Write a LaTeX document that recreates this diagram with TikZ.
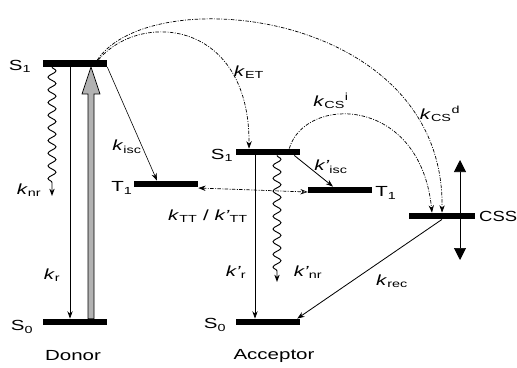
\documentclass[tikz,border=0pt]{standalone}
\usepackage{fontspec}
\setmainfont[FakeStretch=1.4]{Liberation Sans}
\usetikzlibrary{arrows.meta,calc,decorations.pathmorphing}

\newcommand{\kk}[1]{\textit{k}\textsubscript{#1}}
\newcommand{\kp}[1]{\textit{k'}\textsubscript{#1}}

\begin{document}
\begin{tikzpicture}[x=0.03cm, y=-0.03cm,
    level/.style={fill=black, minimum width=1.92cm, minimum height=0.19cm, inner sep=0pt},
    lbl/.style={inner sep=0pt, font=\fontsize{12.5}{14}\selectfont},
    arr/.style={-{Stealth[length=0.22cm, width=0.16cm]}, line width=0.7pt},
    dd/.style={arr, line width=0.6pt, dash pattern=on 3pt off 1.2pt on 0.8pt off 1.2pt},
    tt/.style={{Stealth[length=0.22cm, width=0.16cm]}-{Stealth[length=0.22cm, width=0.16cm, open]}, line width=0.6pt, dash pattern=on 3pt off 1.2pt on 0.8pt off 1.2pt},
    wavy/.style={arr, line width=0.8pt, decorate, decoration={snake, amplitude=0.12cm, segment length=0.38cm, post length=0.25cm}}
]
\useasboundingbox (0,0) rectangle (517,367);

\node[level] (dS1) at (75,63.5) {};
\node[level] (dS0) at (75,322) {};
\node[level] (dT1) at (166,184) {};
\node[level] (aS1) at (268,152) {};
\node[level] (aT1) at (340,190) {};
\node[level] (aS0) at (268,322) {};
\node[level, minimum width=2.0cm] (css) at (442,216) {};

\node[lbl] (dS1l) at (20,66) {S\textsubscript{1}};
\node[lbl] (dS0l) at (22,327) {S\textsubscript{0}};
\node[lbl] (dT1l) at (122,188) {T\textsubscript{1}};
\node[lbl] (aS1l) at (222,155) {S\textsubscript{1}};
\node[lbl] (aT1l) at (386,193) {T\textsubscript{1}};
\node[lbl] (aS0l) at (215,325) {S\textsubscript{0}};
\node[lbl, anchor=west, xscale=0.9] (cssl) at (479,216) {CSS};
\node[lbl] (donor) at (73,356) {Donor};
\node[lbl] (acceptor) at (274,356) {Acceptor};

\node[lbl] (knr) at (29,190) {\kk{nr}};
\node[lbl] (kr) at (52,275) {\kk{r}};
\node[lbl] (kisc) at (127,147) {\kk{isc}};
\node[lbl] (kET) at (249,72) {\kk{ET}};
\node[lbl] (kCSd) at (440,114) {\kk{CS}\textsuperscript{d}};
\node[lbl] (kCSi) at (331,101) {\kk{CS}\textsuperscript{i}};
\node[lbl] (kisc2) at (331,167) {\kp{isc}};
\node[lbl] (kTT) at (208,216) {\kk{TT} / \kp{TT}};
\node[lbl] (kr2) at (236,272) {\kp{r}};
\node[lbl] (knr2) at (308,272) {\kp{nr}};
\node[lbl] (krec) at (392,281) {\kk{rec}};

\coordinate (knrEnd) at (52,196);
\coordinate (knr2End) at (277,282);
\coordinate (cssUp) at (460,160);
\coordinate (cssDown) at (460,260);
\coordinate (up0) at ([xshift=0.48cm]dS0.north);
\coordinate (up1) at ([xshift=0.48cm]dS1.south);

\draw[wavy] ([xshift=-0.69cm]dS1.south) -- (knrEnd);
\draw[arr] ([xshift=-0.15cm]dS1.south) -- ([xshift=-0.15cm]dS0.north);
\draw[fill=black!30, line width=0.6pt] ($(up0)+(-3,0)$) -- ($(up1)+(-3,27)$) -- ($(up1)+(-9,27)$) -- (up1) -- ($(up1)+(9,27)$) -- ($(up1)+(3,27)$) -- ($(up0)+(3,0)$) -- cycle;
\draw[arr, line width=0.5pt] (dS1.south east) -- ([xshift=-0.27cm]dT1.north);
\draw[dd] ([xshift=-0.27cm]dS1.north east) .. controls (140,10) and (250,20) .. ([xshift=-0.57cm]aS1.north);
\draw[dd] ([xshift=-0.3cm]dS1.north east) .. controls (150,-20) and (445,10) .. (css.north);
\draw[dd] ([xshift=-0.33cm]aS1.north east) .. controls (305,95) and (420,95) .. ([xshift=-0.3cm]css.north);
\draw[arr] ([xshift=-0.18cm]aS1.south east) -- ([xshift=-0.21cm]aT1.north);
\draw[tt] ([yshift=-0.12cm]dT1.east) -- ([yshift=-0.06cm]aT1.west);
\draw[arr] ([xshift=-0.39cm]aS1.south) -- ([xshift=-0.39cm]aS0.north);
\draw[wavy] ([xshift=0.27cm]aS1.south) -- (knr2End);
\draw[arr] (css.south) -- ([xshift=-0.09cm]aS0.north east);
\draw[{Triangle[length=0.36cm, width=0.36cm]}-{Triangle[length=0.36cm, width=0.36cm]}, line width=0.6pt] (cssUp) -- (cssDown);
\end{tikzpicture}
\end{document}
